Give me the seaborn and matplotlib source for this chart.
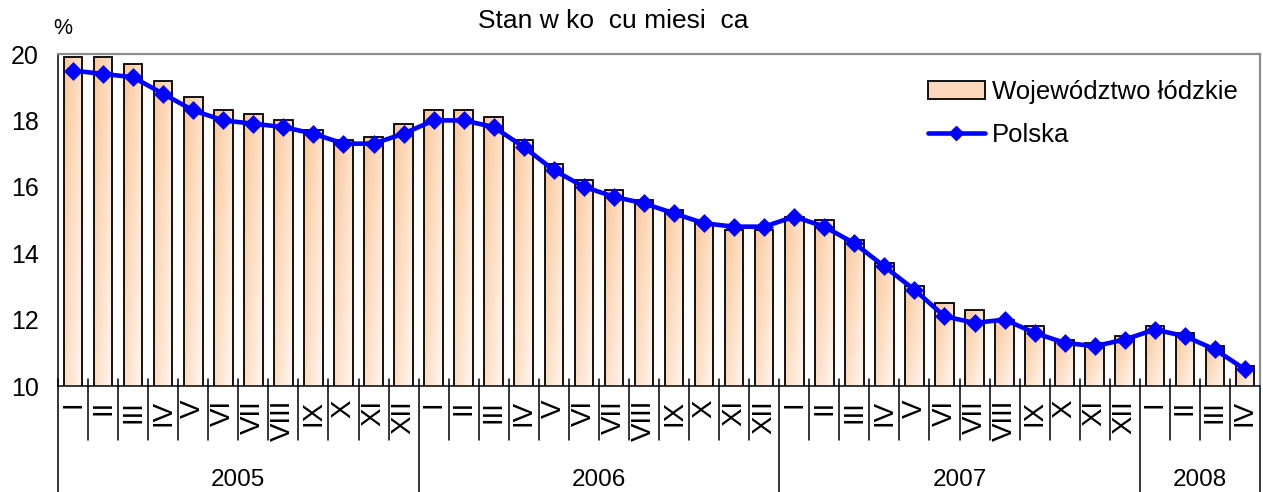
import numpy as np
import pandas as pd
import matplotlib
matplotlib.use("Agg")
import matplotlib.pyplot as plt
import matplotlib.transforms as mtransforms
from matplotlib.patches import Patch
from matplotlib.lines import Line2D
import seaborn as sns

# ---------------- data ----------------
months = ["I", "II", "III", "IV", "V", "VI", "VII", "VIII", "IX", "X", "XI", "XII"]
years = ["2005", "2006", "2007", "2008"]
months_per_year = [12, 12, 12, 4]

lodzkie = [19.9, 19.9, 19.7, 19.2, 18.7, 18.3, 18.2, 18.0, 17.7, 17.4, 17.5, 17.9,
           18.3, 18.3, 18.1, 17.4, 16.7, 16.2, 15.9, 15.6, 15.3, 14.9, 14.7, 14.7,
           15.1, 15.0, 14.4, 13.7, 13.0, 12.5, 12.3, 12.0, 11.8, 11.4, 11.3, 11.5,
           11.8, 11.6, 11.2, 10.6]
polska = [19.5, 19.4, 19.3, 18.8, 18.3, 18.0, 17.9, 17.8, 17.6, 17.3, 17.3, 17.6,
          18.0, 18.0, 17.8, 17.2, 16.5, 16.0, 15.7, 15.5, 15.2, 14.9, 14.8, 14.8,
          15.1, 14.8, 14.3, 13.6, 12.9, 12.1, 11.9, 12.0, 11.6, 11.3, 11.2, 11.4,
          11.7, 11.5, 11.1, 10.5]

series_bar = "Województwo łódzkie"
series_line = "Polska"
title = "Stan w ko  cu miesi  ca"
unit = "%"

month_labels = [m for y, n in zip(years, months_per_year) for m in months[:n]]
cat_keys = [f"{y}-{m}" for y, n in zip(years, months_per_year) for m in months[:n]]
df = pd.DataFrame({"cat": cat_keys, "month": month_labels,
                   "lodzkie": lodzkie, "polska": polska})

# ---------------- style ----------------
sns.set_theme(style="white")
plt.rcParams["font.family"] = ["Liberation Sans", "DejaVu Sans"]
for k in ["text.color", "xtick.color", "ytick.color", "axes.labelcolor"]:
    plt.rcParams[k] = "black"

fig = plt.figure(figsize=(12.63, 4.92), dpi=100)
ax = fig.add_axes([58 / 1263, 1 - 386 / 492, (1260 - 58) / 1263, (386 - 54) / 492])

sns.barplot(data=df, x="cat", y="lodzkie", order=cat_keys, color="#FBD3B0",
            width=0.62, edgecolor="black", linewidth=1.3, ax=ax, zorder=2)

YMIN, YMAX = 10, 20

# gradient fill for bars
ny, nx = 64, 24
u = np.linspace(0, 1, nx)[None, :]
v = np.linspace(0, 1, ny)[:, None]
t = np.clip(0.55 * u + 0.45 * v, 0, 1)[..., None]
dark = np.array([250, 200, 155]) / 255.0
light = np.array([255, 247, 242]) / 255.0
grad = dark * (1 - t) + light * t
for p in list(ax.patches):
    x0, w, h = p.get_x(), p.get_width(), p.get_height()
    p.set_facecolor("none")
    im = ax.imshow(grad, extent=[x0, x0 + w, YMIN, h], aspect="auto",
                   zorder=1.5, interpolation="bilinear")
    im.set_clip_path(p)

sns.pointplot(data=df, x="cat", y="polska", order=cat_keys, color="#0000FF",
              markers="D", linestyles="-", errorbar=None, ax=ax,
              markersize=7, linewidth=3.3, zorder=3)

ax.set_xlim(-0.5, len(cat_keys) - 0.5)
ax.set_ylim(YMIN, YMAX)
ax.set_yticks(np.arange(10, 21, 2))
ax.set_xticks(range(len(cat_keys)))
ax.set_xticklabels(month_labels, rotation=90, fontsize=20)
ax.set_xlabel("")
ax.set_ylabel("")
ax.tick_params(axis="x", length=0, pad=10)
ax.tick_params(axis="y", direction="inout", length=16, width=1, color="black",
               labelsize=18, pad=6)

for s in ["top", "right"]:
    ax.spines[s].set_color("#8c8c8c")
    ax.spines[s].set_linewidth(1.6)
for s in ["left", "bottom"]:
    ax.spines[s].set_color("black")
    ax.spines[s].set_linewidth(1.1)
ax.grid(False)

# category separators and year groups
trans = mtransforms.blended_transform_factory(ax.transData, ax.transAxes)
year_bounds = np.cumsum([0] + months_per_year)
year_edges = set(year_bounds.tolist())
for i in range(len(cat_keys) + 1):
    xb = i - 0.5
    if i in year_edges:
        ax.plot([xb, xb], [0.021, -0.319], color="black", lw=1.1,
                transform=trans, clip_on=False)
    else:
        ax.plot([xb, xb], [0.021, -0.163], color="black", lw=1.1,
                transform=trans, clip_on=False)
for y, a, b in zip(years, year_bounds[:-1], year_bounds[1:]):
    ax.text((a + b - 1) / 2, -0.283, y, transform=trans, ha="center",
            va="center", fontsize=17.5)

# legend
handles = [Patch(facecolor="#FCD9BC", edgecolor="black", linewidth=1.3),
           Line2D([0], [0], color="#0000FF", lw=3.3, marker="D", markersize=7)]
fig.legend(handles, [series_bar, series_line], loc="upper left",
           bbox_to_anchor=(928 / 1263, 1 - 80 / 492), frameon=False,
           fontsize=18.5, handlelength=2.2, handleheight=0.7, handletextpad=0.3,
           labelspacing=0.75, borderpad=0, borderaxespad=0)

fig.text(613 / 1263, 1 - 21 / 492, title, ha="center", va="center", fontsize=19)
fig.text(63 / 1263, 1 - 29 / 492, unit, ha="center", va="center", fontsize=15.5)

fig.savefig("out.png", dpi=100)
